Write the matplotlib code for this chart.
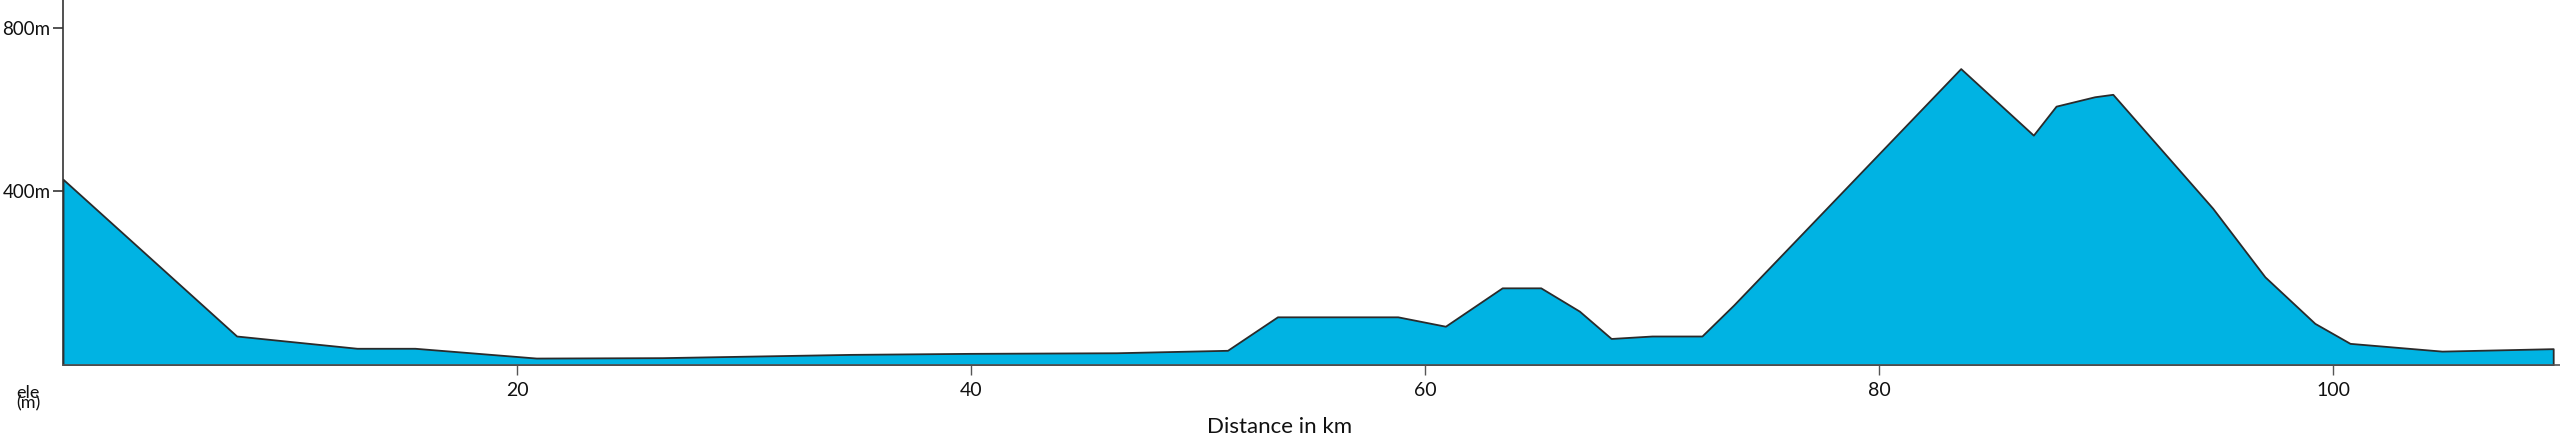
"""Elevation profile of the route, distance in km against elevation in m"""

import matplotlib
matplotlib.use('Agg')
import matplotlib.pyplot as plt

#-------------------------------------------------------------------------------

#-- profile points
distance_km = [0.0, 7.65, 12.95, 15.5, 20.85, 26.4, 34.7, 39.95, 46.4, 51.3,
               53.5, 58.8, 60.9, 63.4, 65.1, 66.8, 68.2, 70.0, 72.2, 73.6,
               83.6, 86.8, 87.8, 89.5, 90.3, 94.7, 97.0, 99.2, 100.75, 104.8,
               109.7]
elevation_m = [429, 45, 15, 15, -9, -8, 0, 2.5, 4, 10,
               92, 92, 69, 163, 163, 106, 39, 45, 45, 121,
               700, 537, 608, 631, 637, 358, 190, 76, 27, 8,
               14]

x_ticks = [20, 40, 60, 80, 100]
y_ticks = [400, 800]
y_tick_labels = ['400m', '800m']

#-------------------------------------------------------------------------------

def profile():
    plt.rcParams['font.family'] = ['Lato', 'DejaVu Sans']

    fig = plt.figure(figsize=(25.6, 4.41), dpi=100)
    ax = fig.add_axes([63 / 2560., 76 / 441., 1 - 63 / 2560., 1 - 76 / 441.])

    y_min = -26
    ax.fill_between(distance_km, elevation_m, y_min, facecolor='#00b3e3',
                    edgecolor='#2b2b2b', linewidth=1.3)

    ax.set_xlim(0, 110)
    ax.set_ylim(y_min, 868)

    ax.set_xticks(x_ticks)
    ax.set_xticklabels([str(t) for t in x_ticks])
    ax.set_yticks(y_ticks)
    ax.set_yticklabels(y_tick_labels)

    ax.tick_params(axis='x', length=7, width=1, color='#555555', pad=5,
                   labelsize=14, labelcolor='#111111')
    ax.tick_params(axis='y', length=7, width=1.3, color='#444444', pad=2,
                   labelsize=13.5, labelcolor='#111111')

    for side in ['top', 'right']:
        ax.spines[side].set_visible(False)
    ax.spines['left'].set_color('#333333')
    ax.spines['left'].set_linewidth(1.2)
    ax.spines['bottom'].set_color('#555555')
    ax.spines['bottom'].set_linewidth(1.2)

    fig.text(0.5, 1 - 427 / 441., 'Distance in km', ha='center', va='center',
             fontsize=16, color='#111111')
    fig.text(28 / 2560., 1 - 398 / 441., 'ele\n(m)', ha='center', va='center',
             fontsize=13, linespacing=0.6, color='#111111')

    fig.savefig('out.png', dpi=100)

#-------------------------------------------------------------------------------

if __name__ == "__main__":
    profile()
